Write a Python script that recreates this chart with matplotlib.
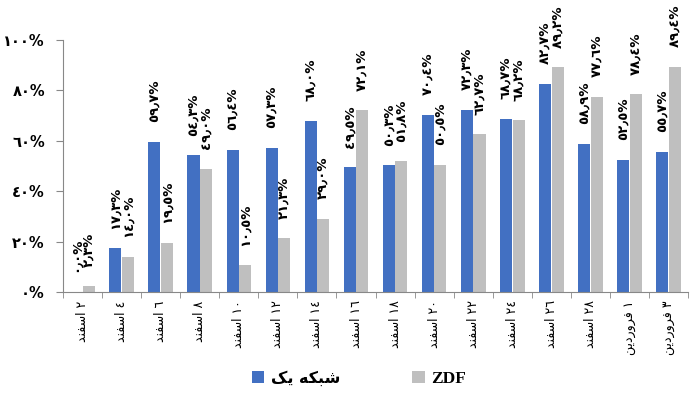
import matplotlib
matplotlib.use("Agg")
import matplotlib.pyplot as plt
import numpy as np

# ---------------- data ----------------
categories = ["٢ اسفند", "٤ اسفند", "٦ اسفند", "٨ اسفند", "١٠ اسفند", "١٢ اسفند",
              "١٤ اسفند", "١٦ اسفند", "١٨ اسفند", "٢٠ اسفند", "٢٢ اسفند", "٢٤ اسفند",
              "٢٦ اسفند", "٢٨ اسفند", "١ فروردین", "٣ فروردین"]
channel1 = [0.0, 17.3, 59.7, 54.3, 56.4, 57.3, 68.0, 49.5, 50.3, 70.4, 72.3, 68.7,
            82.7, 58.9, 52.5, 55.7]
zdf = [2.3, 14.0, 19.5, 49.0, 10.5, 21.3, 29.0, 72.1, 51.8, 50.5, 62.7, 68.2,
       89.2, 77.6, 78.4, 89.4]
series_names = ["شبکه یک", "ZDF"]
yticks = [0, 20, 40, 60, 80, 100]

# ---------------- minimal Arabic/Persian shaping ----------------
FORMS = {  # isolated, final, initial, medial
    'ا': ('\uFE8D', '\uFE8E', None, None),
    'د': ('\uFEA9', '\uFEAA', None, None),
    'ر': ('\uFEAD', '\uFEAE', None, None),
    'و': ('\uFEED', '\uFEEE', None, None),
    'س': ('\uFEB1', '\uFEB2', '\uFEB3', '\uFEB4'),
    'ش': ('\uFEB5', '\uFEB6', '\uFEB7', '\uFEB8'),
    'ف': ('\uFED1', '\uFED2', '\uFED3', '\uFED4'),
    'ن': ('\uFEE5', '\uFEE6', '\uFEE7', '\uFEE8'),
    'ب': ('\uFE8F', '\uFE90', '\uFE91', '\uFE92'),
    'ه': ('\uFEE9', '\uFEEA', '\uFEEB', '\uFEEC'),
    'ی': ('\uFBFC', '\uFBFD', '\uFBFE', '\uFBFF'),
    'ک': ('\uFB8E', '\uFB8F', '\uFB90', '\uFB91'),
}


def shape_word(w):
    out = []
    for i, ch in enumerate(w):
        if ch not in FORMS:
            out.append(ch)
            continue
        f = FORMS[ch]
        prev = w[i - 1] if i > 0 else None
        nxt = w[i + 1] if i + 1 < len(w) else None
        join_prev = prev in FORMS and FORMS[prev][2] is not None
        join_next = nxt in FORMS and f[2] is not None
        if join_prev and join_next:
            out.append(f[3])
        elif join_prev:
            out.append(f[1])
        elif join_next:
            out.append(f[2])
        else:
            out.append(f[0])
    return out


def rtl(text):
    tokens = text.split(' ')
    vis = []
    for t in tokens:
        if any(c in FORMS for c in t):
            vis.append(''.join(reversed(shape_word(t))))
        else:
            vis.append(t)
    return ' '.join(reversed(vis))


AR_DIGITS = str.maketrans('0123456789.', '٠١٢٣٤٥٦٧٨٩٫')


def ar_num(v, dec=True):
    s = f"{v:.1f}" if dec else f"{v:.0f}"
    return s.translate(AR_DIGITS) + '%'


# ---------------- plot ----------------
plt.rcParams['font.family'] = ['DejaVu Sans']
fig = plt.figure(figsize=(6.9, 4.01), dpi=100)
ax = fig.add_axes([0.0913, 0.272, 0.906, 0.628])

x = np.arange(len(categories))
w = 0.31
blue = '#4270C2'
gray = '#BFBFBF'
b1 = ax.bar(x - 0.16, channel1, w, color=blue, label=rtl(series_names[0]))
b2 = ax.bar(x + 0.16, zdf, w, color=gray, label=series_names[1])

for bars, vals in ((b1, channel1), (b2, zdf)):
    for r, v in zip(bars, vals):
        ax.annotate(ar_num(v), (r.get_x() + r.get_width() / 2, r.get_height()),
                    xytext=(0, 14), textcoords='offset points', rotation=90,
                    ha='center', va='bottom', fontsize=9.5, fontweight='bold')

ax.set_xlim(-0.5, len(categories) - 0.5)
ax.set_ylim(0, 100)
ax.set_yticks(yticks)
ax.set_yticklabels([ar_num(v, dec=False) for v in yticks], fontsize=10.5,
                   fontweight='bold')
ax.set_xticks(x)
ax.set_xticklabels([rtl(c) for c in categories], rotation=90, fontsize=9)
ax.set_xticks(np.arange(-0.5, len(categories), 1), minor=True)
ax.tick_params(axis='x', which='major', length=0, pad=6)
ax.tick_params(axis='x', which='minor', length=4, color='#888888', direction='out')
ax.tick_params(axis='y', length=5, color='#888888', pad=8)

for s in ('top', 'right'):
    ax.spines[s].set_visible(False)
for s in ('left', 'bottom'):
    ax.spines[s].set_color('#888888')

leg = fig.legend(loc='lower center', bbox_to_anchor=(0.52, 0.0), ncol=2,
                 frameon=False, fontsize=11.5, columnspacing=4.5, handlelength=0.8,
                 handleheight=0.8, handletextpad=0.4)
for t in leg.get_texts():
    t.set_fontweight('bold')
leg.get_texts()[1].set_family('Liberation Serif')
leg.get_texts()[1].set_fontsize(12.5)

fig.savefig('out.png', dpi=100)
